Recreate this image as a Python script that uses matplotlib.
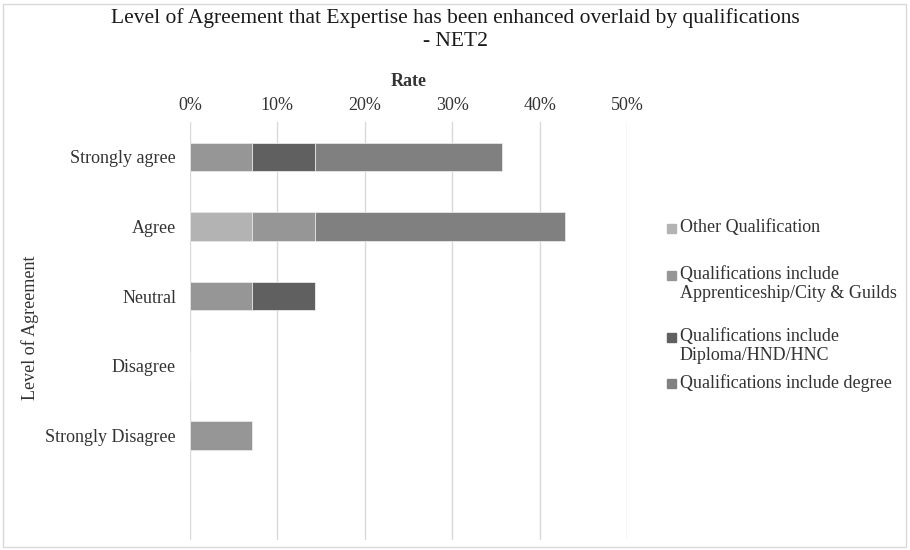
import matplotlib.pyplot as plt
from matplotlib.patches import Rectangle
from matplotlib.ticker import PercentFormatter

plt.rcParams['font.family'] = ['Liberation Serif', 'DejaVu Serif']

# survey responses, share of all respondents (%)
levels = ["Strongly agree", "Agree", "Neutral", "Disagree", "Strongly Disagree"]
series_names = [
    "Other Qualification",
    "Qualifications include\nApprenticeship/City & Guilds",
    "Qualifications include\nDiploma/HND/HNC",
    "Qualifications include degree",
]
other_qual = [0.0, 7.14, 0.0, 0.0, 0.0]
apprenticeship = [7.14, 7.14, 7.14, 0.0, 7.14]
diploma = [7.14, 0.0, 7.14, 0.0, 0.0]
degree = [21.43, 28.57, 0.0, 0.0, 0.0]
series_values = [other_qual, apprenticeship, diploma, degree]
colors = ["#b3b3b3", "#969696", "#606060", "#808080"]

txt = "#333333"
fs = 13

fig = plt.figure(figsize=(9.1, 5.5), dpi=100)
ax = fig.add_axes([190 / 910, 1 - 540 / 550, 437 / 910, 418 / 550])

pos = list(range(len(levels)))
left = [0.0] * len(levels)
for vals, col in zip(series_values, colors):
    ax.barh(pos, vals, left=left, height=0.41, color=col,
            edgecolor="#e6e6e6", linewidth=0.6, zorder=3)
    left = [l + v for l, v in zip(left, vals)]

ax.set_xlim(0, 50)
ax.set_ylim(len(levels) + 0.5, -0.5)
ax.set_xticks(range(0, 51, 10))
ax.xaxis.set_major_formatter(PercentFormatter(decimals=0))
ax.xaxis.tick_top()
ax.xaxis.set_label_position("top")
ax.set_yticks(pos)
ax.set_yticklabels(levels)
ax.tick_params(axis="y", length=0, labelsize=fs, colors=txt, pad=10)
ax.tick_params(axis="x", length=0, labelsize=fs, colors=txt, pad=6)
ax.grid(axis="x", color="#d9d9d9", linewidth=1, zorder=0)
for s in ax.spines.values():
    s.set_visible(False)

ax.set_xlabel("Rate", fontsize=fs, fontweight="bold", color=txt, labelpad=8)
fig.text(30 / 910, 1 - 328 / 550, "Level of Agreement", rotation=90,
         ha="center", va="center", fontsize=fs, color=txt)

fig.text(0.5, 1 - 18 / 550,
         "Level of Agreement that Expertise has been enhanced overlaid by qualifications",
         ha="center", va="center", fontsize=15.5, color="#1a1a1a")
fig.text(0.5, 1 - 41 / 550, "- NET2", ha="center", va="center",
         fontsize=15.5, color="#1a1a1a")

# legend entries drawn by hand for Excel-like spacing
legend_y = [228, 275, 337, 383]
for name, col, y in zip(series_names, colors, legend_y):
    fig.patches.append(Rectangle((667 / 910, 1 - (y + 4.5) / 550), 9 / 910, 9 / 550,
                                 transform=fig.transFigure, color=col))
    fig.text(680 / 910, 1 - (y - 9) / 550, name, ha="left", va="top",
             fontsize=fs, color=txt, linespacing=1.15)

fig.patches.append(Rectangle((3 / 910, 3 / 550), 903 / 910, 543 / 550,
                             transform=fig.transFigure, fill=False,
                             edgecolor="#d9d9d9", linewidth=1))

fig.savefig("out.png", dpi=100)
